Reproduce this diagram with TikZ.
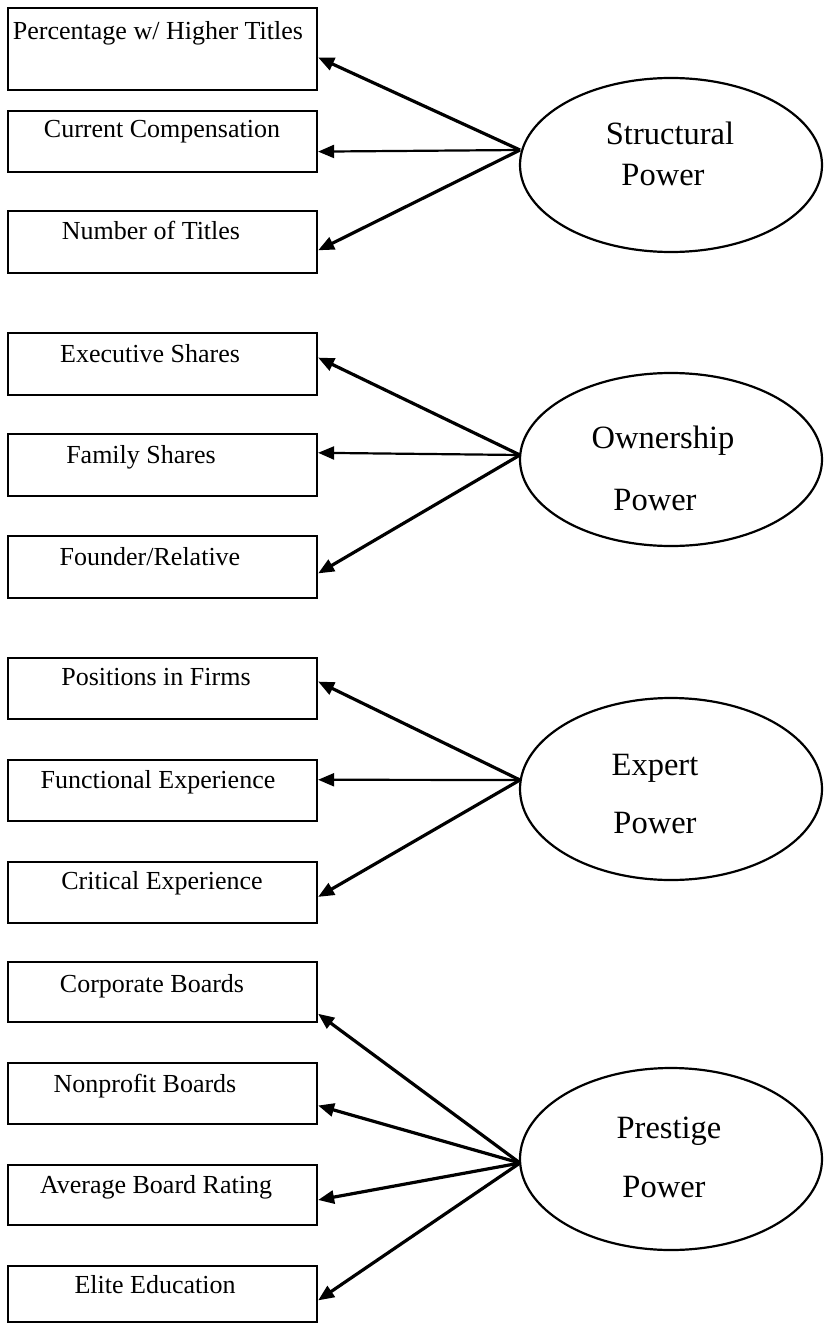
\documentclass[tikz,border=0pt]{standalone}
\usepackage{fontspec}
\setmainfont{Liberation Serif}
\usetikzlibrary{shapes.geometric,arrows.meta,calc}
\tikzset{
  box/.style={draw, line width=2.2pt, rectangle, minimum width=309pt, inner sep=0pt},
  blbl/.style={anchor=base, inner sep=0pt, font=\fontsize{26}{30}\selectfont},
  elab/.style={anchor=base, inner sep=0pt, font=\fontsize{32.5}{36}\selectfont},
  lat/.style={draw, ellipse, line width=2.2pt, minimum width=302pt, inner sep=0pt},
  arr/.style={line width=3.2pt, -{Triangle[length=16pt,width=13pt]}},
  harr/.style={line width=2.2pt, -{Triangle[length=16pt,width=13pt]}}
}
\begin{document}
\begin{tikzpicture}[x=1pt,y=-1pt]
\useasboundingbox (0,0) rectangle (824,1324);
\fill[white] (0,0) rectangle (824,1324);
% boxes
\node[box, minimum height=82pt] (b1) at (162.5,49) {};
\node[box, minimum height=61pt] (b2) at (162.5,141.5) {};
\node[box, minimum height=62pt] (b3) at (162.5,242) {};
\node[box, minimum height=62pt] (b4) at (162.5,364) {};
\node[box, minimum height=62pt] (b5) at (162.5,465) {};
\node[box, minimum height=62pt] (b6) at (162.5,567) {};
\node[box, minimum height=61pt] (b7) at (162.5,688.5) {};
\node[box, minimum height=61pt] (b8) at (162.5,790.5) {};
\node[box, minimum height=61pt] (b9) at (162.5,892.5) {};
\node[box, minimum height=60pt] (b10) at (162.5,992) {};
\node[box, minimum height=61pt] (b11) at (162.5,1093.5) {};
\node[box, minimum height=60pt] (b12) at (162.5,1195) {};
\node[box, minimum height=56pt] (b13) at (162.5,1294) {};
% box labels
\node[blbl] (t1) at (158,40) {Percentage w/ Higher Titles};
\node[blbl] (t2) at (162,138) {Current Compensation};
\node[blbl] (t3) at (151,240) {Number of Titles};
\node[blbl] (t4) at (150,362) {Executive Shares};
\node[blbl] (t5) at (141,463) {Family Shares};
\node[blbl] (t6) at (150,565) {Founder/Relative};
\node[blbl] (t7) at (156,685) {Positions in Firms};
\node[blbl] (t8) at (158,788) {Functional Experience};
\node[blbl] (t9) at (162,889) {Critical Experience};
\node[blbl] (t10) at (152,992) {Corporate Boards};
\node[blbl] (t11) at (145,1092) {Nonprofit Boards};
\node[blbl] (t12) at (156,1193) {Average Board Rating};
\node[blbl] (t13) at (155,1293) {Elite Education};
% latent ellipses
\node[lat, minimum height=174pt] (S) at (671,165) {};
\node[lat, minimum height=173pt] (O) at (671,459.5) {};
\node[lat, minimum height=182pt] (E) at (671,789) {};
\node[lat, minimum height=182pt] (P) at (671,1159) {};
\node[elab] (s1) at (670,145) {Structural};
\node[elab] (s2) at (663,186) {Power};
\node[elab] (o1) at (663,448) {Ownership};
\node[elab] (o2) at (655,510) {Power};
\node[elab] (e1) at (655,775) {Expert};
\node[elab] (e2) at (655,833) {Power};
\node[elab] (p1) at (669,1138) {Prestige};
\node[elab] (p2) at (664,1197) {Power};
% convergence points
\coordinate (cs) at (520,150);
\coordinate (co) at (520,455);
\coordinate (ce) at (520,780);
\coordinate (cp) at (520,1163);
% connectors
\draw[arr] (cs) -- ($(b1.north east)!0.60!(b1.south east)$);
\draw[harr] (cs) -- ($(b2.north east)!0.66!(b2.south east)$);
\draw[arr] (cs) -- ($(b3.north east)!0.63!(b3.south east)$);
\draw[arr] (co) -- ($(b4.north east)!0.40!(b4.south east)$);
\draw[harr] (co) -- ($(b5.north east)!0.31!(b5.south east)$);
\draw[arr] (co) -- ($(b6.north east)!0.60!(b6.south east)$);
\draw[arr] (ce) -- ($(b7.north east)!0.39!(b7.south east)$);
\draw[harr] (ce) -- ($(b8.north east)!0.33!(b8.south east)$);
\draw[arr] (ce) -- ($(b9.north east)!0.57!(b9.south east)$);
\draw[arr] (cp) -- ($(b10.north east)!0.85!(b10.south east)$);
\draw[arr] (cp) -- ($(b11.north east)!0.69!(b11.south east)$);
\draw[arr] (cp) -- ($(b12.north east)!0.58!(b12.south east)$);
\draw[arr] (cp) -- ($(b13.north east)!0.61!(b13.south east)$);
\end{tikzpicture}
\end{document}
